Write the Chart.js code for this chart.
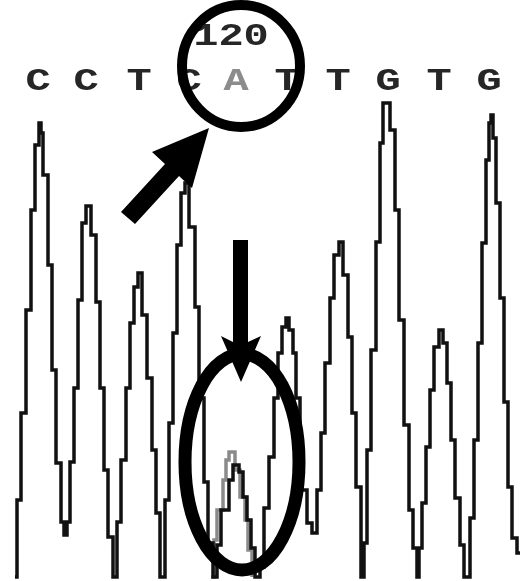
<!DOCTYPE html>
<html>
<head>
<meta charset="utf-8">
<script src="https://cdn.jsdelivr.net/npm/chart.js@4/dist/chart.umd.min.js"></script>
<style>
  html, body { margin: 0; padding: 0; background: #fff; }
  #wrap { width: 520px; height: 581px; position: relative; }
</style>
</head>
<body>
<div id="wrap"><canvas id="trace"></canvas></div>
<script>
// base calls above the trace, and where each sits on the scan axis
var baseCalls = ['C', 'C', 'T', 'C', 'A', 'T', 'T', 'G', 'T', 'G'];
var callPos = [38, 86, 139, 189, 236, 287, 338, 388, 439, 489];
var positionLabel = '120';
var positionLabelAt = 231;

// main (black) trace: scan position -> signal after each step
var scanX = [15, 17, 21, 26, 31, 35, 39, 41, 43, 48, 52, 56, 61, 64, 67, 70, 74, 78, 82, 86,
  91, 96, 100, 104, 108, 113, 117, 121, 126, 130, 134, 138, 142, 147, 152, 156, 160, 165, 169, 173,
  177, 181, 185, 189, 195, 199, 204, 208, 213, 217, 221, 229, 233, 239, 243, 247, 251, 255, 260, 264,
  269, 274, 278, 282, 286, 289, 293, 296, 300, 307, 312, 317, 321, 325, 330, 334, 339, 343, 348, 352,
  356, 361, 364, 367, 371, 376, 380, 383, 390, 395, 399, 404, 409, 413, 417, 419, 422, 426, 430, 434,
  439, 443, 447, 451, 455, 460, 464, 470, 474, 478, 482, 486, 489, 491, 493, 496, 500, 504, 508, 512,
  517, 521];
var blackSignal = [0, 77, 164, 267, 367, 432, 454, 444, 402, 312, 207, 114, 55, 42, 55, 115, 189, 277, 354, 371,
  342, 275, 189, 107, 40, 0, 55, 117, 189, 254, 290, 304, 262, 199, 127, 64, 0, 77, 154, 244,
  332, 384, 394, 350, 270, 179, 95, 34, 0, 32, 67, 97, 112, 105, 80, 57, 29, 0, 10, 69,
  120, 179, 224, 250, 259, 247, 224, 179, 87, 54, 44, 87, 144, 214, 279, 322, 335, 302, 240, 164,
  90, 0, 34, 127, 227, 335, 434, 474, 447, 367, 257, 152, 67, 29, 0, 29, 74, 130, 187, 230,
  247, 234, 194, 137, 79, 32, 0, 59, 137, 234, 334, 417, 454, 462, 439, 374, 279, 175, 90, 39,
  24, 24];

// secondary (grey) trace under the A call
var greyX = [211, 214, 217, 223, 226, 229, 235, 240, 245, 248, 252];
var greySignal = [0, 37, 67, 97, 117, 125, 107, 80, 57, 27, 0];

function pts(xs, ys) {
  return xs.map(function (x, i) { return { x: x, y: ys[i] }; });
}

function stretchedText(c, txt, x, y, sx, sy, colour) {
  c.save();
  c.translate(x, y);
  c.scale(sx, sy);
  c.fillStyle = colour;
  c.fillText(txt, 0, 0);
  c.restore();
}

var marks = {
  id: 'marks',
  afterDatasetsDraw: function (chart) {
    var c = chart.ctx;
    var xs = chart.scales.x;
    c.save();

    c.textAlign = 'center';
    c.textBaseline = 'middle';
    c.font = 'bold 30px "Liberation Mono"';

    // base calls
    baseCalls.forEach(function (b, i) {
      stretchedText(c, b, xs.getPixelForValue(callPos[i]), 82, 1.4, 1.02,
        b === 'A' ? '#8c8c8c' : '#262626');
    });

    // position number
    stretchedText(c, positionLabel, xs.getPixelForValue(positionLabelAt), 37, 1.4, 1.02, '#262626');

    c.fillStyle = '#000';
    c.strokeStyle = '#000';

    // circle round the call
    c.lineWidth = 10;
    c.beginPath();
    c.ellipse(241, 66, 59, 61, 0, 0, Math.PI * 2);
    c.stroke();

    // diagonal arrow
    c.beginPath();
    c.moveTo(121, 212);
    c.lineTo(165, 164);
    c.lineTo(152, 152);
    c.lineTo(209, 128);
    c.lineTo(192, 188);
    c.lineTo(179, 176);
    c.lineTo(135, 224);
    c.closePath();
    c.fill();

    // vertical arrow
    c.beginPath();
    c.moveTo(233, 240);
    c.lineTo(248, 240);
    c.lineTo(248, 342);
    c.lineTo(261, 336);
    c.lineTo(241, 382);
    c.lineTo(221, 336);
    c.lineTo(233, 342);
    c.closePath();
    c.fill();

    // ellipse round the double peak
    c.lineWidth = 13;
    c.beginPath();
    c.ellipse(242, 462, 57, 108, 0, 0, Math.PI * 2);
    c.stroke();

    c.restore();
  }
};

new Chart(document.getElementById('trace'), {
  type: 'line',
  data: {
    datasets: [{
      label: 'main',
      data: pts(scanX, blackSignal),
      borderColor: '#111',
      borderWidth: 3.5,
      stepped: 'before',
      pointRadius: 0,
      fill: false,
      order: 0
    }, {
      label: 'second',
      data: pts(greyX, greySignal),
      borderColor: '#8a8a8a',
      borderWidth: 3.5,
      stepped: 'before',
      pointRadius: 0,
      fill: false,
      order: 1
    }]
  },
  options: {
    responsive: true,
    maintainAspectRatio: false,
    animation: false,
    layout: { padding: 0 },
    plugins: { legend: { display: false }, tooltip: { enabled: false } },
    scales: {
      x: { type: 'linear', display: false, min: 0, max: 520 },
      y: { display: false, min: -4, max: 577 }
    }
  },
  plugins: [marks]
});
</script>
</body>
</html>
